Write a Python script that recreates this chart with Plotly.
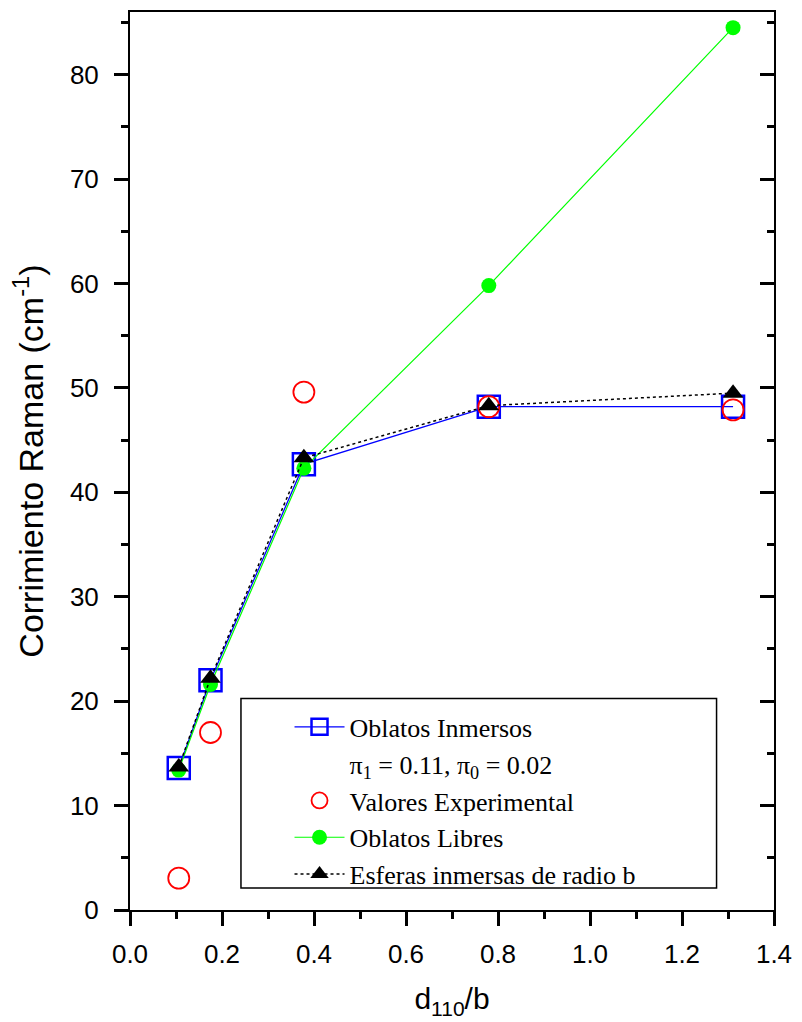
import plotly.graph_objects as go

# data
x_vals = [0.106, 0.175, 0.378, 0.780, 1.311]
oblatos_inmersos = [13.6, 22.0, 42.7, 48.2, 48.2]
valores_exp = [3.05, 17.0, 49.6, 48.2, 47.9]
oblatos_libres = [13.4, 21.6, 42.3, 59.8, 84.5]
esferas = [13.7, 22.2, 43.3, 48.3, 49.5]

x_ticks = [0.0, 0.2, 0.4, 0.6, 0.8, 1.0, 1.2, 1.4]
y_ticks = [0, 10, 20, 30, 40, 50, 60, 70, 80]

names = ["Oblatos Inmersos", "π<sub>1</sub> = 0.11, π<sub>0</sub> = 0.02",
         "Valores Experimental", "Oblatos Libres", "Esferas inmersas de radio b"]

fig = go.Figure()
fig.add_trace(go.Scatter(x=x_vals, y=oblatos_inmersos, mode="lines+markers", name=names[0],
                         line=dict(color="#0000FF", width=1.3),
                         marker=dict(symbol="square-open", size=22, color="#0000FF",
                                     line=dict(width=2.5, color="#0000FF"))))
fig.add_trace(go.Scatter(x=[None], y=[None], mode="markers", name=names[1],
                         marker=dict(color="rgba(0,0,0,0)", size=1)))
fig.add_trace(go.Scatter(x=x_vals, y=valores_exp, mode="markers", name=names[2],
                         marker=dict(symbol="circle-open", size=21, color="#FF0000",
                                     line=dict(width=1.8, color="#FF0000"))))
fig.add_trace(go.Scatter(x=x_vals, y=oblatos_libres, mode="lines+markers", name=names[3],
                         line=dict(color="#00FF00", width=1.2),
                         marker=dict(symbol="circle", size=15, color="#00FF00")))
fig.add_trace(go.Scatter(x=x_vals, y=esferas, mode="lines+markers", name=names[4],
                         line=dict(color="black", width=1.5, dash="dot"),
                         marker=dict(symbol="triangle-up", size=18, color="black")))
# empty trace so the mirrored right-hand axis (inside ticks) is drawn
fig.add_trace(go.Scatter(x=[None], y=[None], yaxis="y2", showlegend=False, hoverinfo="skip"))

axis_font = dict(family="Liberation Sans, Arial", size=26, color="black")

fig.update_layout(
    width=802, height=1022,
    margin=dict(l=130, r=22, t=10, b=112),
    paper_bgcolor="white", plot_bgcolor="white",
    showlegend=True,
    legend=dict(x=0.2477, y=0.2300, xanchor="left", yanchor="top",
                bgcolor="rgba(0,0,0,0)", borderwidth=0, itemwidth=50,
                font=dict(family="Liberation Serif, Times New Roman", size=26, color="black"),
                tracegroupgap=0),
    xaxis=dict(range=[0, 1.4], tickvals=x_ticks, ticktext=[f"{v:.1f}" for v in x_ticks],
               ticks="outside", ticklen=14, tickwidth=2.5, tickcolor="black",
               minor=dict(dtick=0.1, ticks="outside", ticklen=7, tickwidth=2.5, tickcolor="black"),
               showline=True, linewidth=2, linecolor="black", mirror=True,
               showgrid=False, zeroline=False, tickfont=axis_font,
               ticklabelstandoff=6,
               title=dict(text="d<sub>110</sub>/b", font=dict(family="Liberation Sans, Arial", size=30, color="black"),
                          standoff=20)),
    yaxis=dict(range=[0, 86], tickvals=y_ticks,
               ticks="outside", ticklen=14, tickwidth=2.5, tickcolor="black",
               minor=dict(dtick=5, ticks="outside", ticklen=7, tickwidth=2.5, tickcolor="black"),
               showline=True, linewidth=2, linecolor="black", mirror=True,
               showgrid=False, zeroline=False, tickfont=axis_font,
               ticklabelstandoff=10,
               title=dict(text="Corrimiento Raman (cm<sup>-1</sup>)",
                          font=dict(family="Liberation Sans, Arial", size=34, color="black"),
                          standoff=16)),
    yaxis2=dict(range=[0, 86], overlaying="y", side="right", tickvals=y_ticks,
                ticks="inside", ticklen=14, tickwidth=2.5, tickcolor="black",
                minor=dict(dtick=5, ticks="inside", ticklen=7, tickwidth=2.5, tickcolor="black"),
                showticklabels=False, showgrid=False, zeroline=False, showline=False),
)

fig.add_shape(type="rect", xref="paper", yref="paper",
              x0=0.1723, x1=0.9108, y0=0.0244, y1=0.2356,
              line=dict(color="black", width=1.5), fillcolor="rgba(0,0,0,0)", layer="above")

fig.write_html("out.html")
